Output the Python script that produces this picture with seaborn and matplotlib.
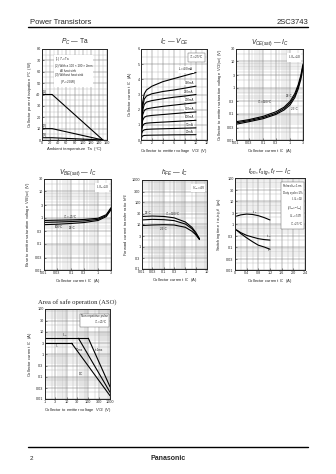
import numpy as np
import pandas as pd
import matplotlib
matplotlib.use("Agg")
import matplotlib.pyplot as plt
from matplotlib.ticker import MultipleLocator, LogLocator, NullFormatter
import seaborn as sns

sns.set_style("ticks")
plt.rcParams['font.family'] = ['Liberation Sans', 'DejaVu Sans']
plt.rcParams['mathtext.fontset'] = 'custom'
plt.rcParams['mathtext.rm'] = 'Liberation Sans'
plt.rcParams['mathtext.it'] = 'Liberation Sans:italic'

# ---------------- data ----------------
# Pc - Ta
pc_ta = [0, 25, 150]
pc_1 = [40, 40, 0]
pc_2 = [10, 10, 0]
pc_3 = [2, 2, 0]

# Ic - Vce
vce = [0, 0.15, 0.3, 0.6, 1, 2, 4, 6, 8, 10]
ib_labels = ["$I_B$=400mA", "300mA", "250mA", "200mA", "150mA", "100mA", "50mA", "20mA"]
ic_400 = [0, 1.6, 2.5, 3.05, 3.3, 3.55, 3.85, 4.05, 4.25, 4.45]
ic_300 = [0, 1.4, 2.2, 2.7, 2.9, 3.05, 3.2, 3.3, 3.42, 3.55]
ic_250 = [0, 1.3, 1.95, 2.35, 2.5, 2.6, 2.72, 2.82, 2.9, 3.0]
ic_200 = [0, 1.1, 1.65, 1.95, 2.05, 2.12, 2.22, 2.3, 2.38, 2.45]
ic_150 = [0, 0.9, 1.3, 1.5, 1.57, 1.62, 1.68, 1.74, 1.8, 1.85]
ic_100 = [0, 0.7, 0.95, 1.07, 1.11, 1.14, 1.18, 1.22, 1.26, 1.3]
ic_50 = [0, 0.45, 0.6, 0.67, 0.7, 0.72, 0.74, 0.76, 0.78, 0.8]
ic_20 = [0, 0.2, 0.27, 0.3, 0.31, 0.32, 0.33, 0.34, 0.345, 0.35]

# Vce(sat) - Ic
sat_ic = [0.01, 0.03, 0.1, 0.3, 0.6, 1, 1.5, 2, 2.5, 3]
vcesat_100 = [0.05, 0.06, 0.08, 0.12, 0.18, 0.3, 0.6, 1.3, 3, 8]
vcesat_25 = [0.045, 0.055, 0.072, 0.105, 0.16, 0.26, 0.5, 1.1, 2.5, 7]
vcesat_m25 = [0.04, 0.05, 0.065, 0.095, 0.14, 0.22, 0.42, 0.9, 2.1, 6]

# Vbe(sat) - Ic
vbe_ic = [0.01, 0.03, 0.1, 0.3, 1, 2, 3]
vbe_m25 = [0.78, 0.8, 0.82, 0.85, 0.95, 1.3, 2.4]
vbe_25 = [0.66, 0.68, 0.71, 0.75, 0.86, 1.2, 2.2]
vbe_100 = [0.54, 0.56, 0.6, 0.65, 0.78, 1.1, 2.0]

# hFE - Ic
hfe_ic = [0.01, 0.03, 0.1, 0.3, 1, 2, 3, 4.5]
hfe_100 = [23, 24, 23, 20, 13, 7.5, 4.5, 2.3]
hfe_25 = [16, 17, 16.5, 15, 10.5, 6.5, 4, 2.2]
hfe_m25 = [9, 9.5, 9.8, 9.5, 7.5, 5, 3.5, 2.1]

# switching times
sw_ic = [0.05, 0.2, 0.4, 0.6, 0.8, 1.0, 1.2]
t_stg = [2.2, 2.5, 2.7, 2.6, 2.3, 1.9, 1.5]
t_on = [0.55, 0.42, 0.32, 0.27, 0.23, 0.21, 0.2]
t_f = [0.55, 0.38, 0.25, 0.17, 0.12, 0.1, 0.08]

# ASO
aso_icp_v = [1, 100]; aso_icp_i = [5, 5]
aso_ic_v = [1, 17]; aso_ic_i = [3, 3]
aso_1ms_v = [100, 1000]; aso_1ms_i = [5, 0.035]
aso_10ms_v = [35, 1000]; aso_10ms_i = [5, 0.02]
aso_dc_v = [17, 1000]; aso_dc_i = [3, 0.014]

log_ticks = [0.01, 0.03, 0.1, 0.3, 1, 3, 10, 30, 100, 300, 1000]
log_labels = ["0.01", "0.03", "0.1", "0.3", "1", "3", "10", "30", "100", "300", "1000"]

# ---------------- figure ----------------
W, H = 336, 474
fig = plt.figure(figsize=(W / 100, H / 100), dpi=100)

def add_ax(x0, y0, x1, y1):
    return fig.add_axes([x0 / W, 1 - y1 / H, (x1 - x0) / W, (y1 - y0) / H])

TS = 2.7   # tick label size
LS = 3.0   # axis label size
KW = dict(color='black', linewidth=0.8, legend=False)

def style(ax, title, xlabel, ylabel, serif=False):
    if serif:
        ax.set_title(title, fontsize=4.8, pad=4, family=['Liberation Serif', 'DejaVu Serif'])
    else:
        ax.set_title(title, fontsize=4.8, pad=4)
    ax.set_xlabel(xlabel, fontsize=LS, labelpad=1.5)
    ax.set_ylabel(ylabel, fontsize=LS, labelpad=1.5)
    ax.tick_params(which='major', labelsize=TS, length=1.2, width=0.4, pad=1, direction='in')
    ax.tick_params(which='minor', length=0)
    ax.grid(which='major', color='0.45', linewidth=0.35)
    ax.grid(which='minor', color='0.65', linewidth=0.25)
    for s in ax.spines.values():
        s.set_linewidth(0.7)
    ax.set_axisbelow(True)

def set_log_ticks(ax, axis, lo, hi):
    t = [v for v in log_ticks if lo - 1e-9 <= v <= hi + 1e-9]
    l = [log_labels[log_ticks.index(v)] for v in t]
    if axis == 'x':
        ax.set_xscale('log'); ax.set_xlim(lo, hi); ax.set_xticks(t, l)
        ax.xaxis.set_minor_locator(LogLocator(base=10, subs=np.arange(2, 10)))
        ax.xaxis.set_minor_formatter(NullFormatter())
    else:
        ax.set_yscale('log'); ax.set_ylim(lo, hi); ax.set_yticks(t, l)
        ax.yaxis.set_minor_locator(LogLocator(base=10, subs=np.arange(2, 10)))
        ax.yaxis.set_minor_formatter(NullFormatter())

# header / footer
fig.text(30 / W, 1 - 23.5 / H, "Power Transistors", fontsize=5.5, ha='left', va='baseline')
fig.text(308 / W, 1 - 23.5 / H, "2SC3743", fontsize=5.5, ha='right', va='baseline')
fig.add_artist(plt.Line2D([28 / W, 308 / W], [1 - 27 / H, 1 - 27 / H], color='black', lw=1.0))
fig.add_artist(plt.Line2D([28 / W, 308 / W], [1 - 447 / H, 1 - 447 / H], color='black', lw=1.0))
fig.text(30 / W, 1 - 460 / H, "2", fontsize=4.5, ha='left', va='baseline')
fig.text(168 / W, 1 - 460 / H, "Panasonic", fontsize=5, ha='center', va='baseline', fontweight='bold')

# ---- 1: Pc - Ta ----
ax = add_ax(42, 49, 107, 140)
for y, lab in [(pc_1, "(1)"), (pc_2, "(2)"), (pc_3, "(3)")]:
    sns.lineplot(x=pc_ta, y=y, ax=ax, **KW)
    ax.text(3, y[0] + 1.2, lab, fontsize=2.4)
ax.set_xlim(0, 160); ax.set_ylim(0, 80)
ax.xaxis.set_major_locator(MultipleLocator(20)); ax.xaxis.set_minor_locator(MultipleLocator(10))
ax.yaxis.set_major_locator(MultipleLocator(10)); ax.yaxis.set_minor_locator(MultipleLocator(5))
style(ax, "$P_C$ — Ta", "Ambient temperature  Ta  (°C)", "Collector power dissipation  $P_C$  (W)")
ax.text(0.2, 0.93, "(1) $T_C$=Ta\n(2) With a 100 × 100 × 2mm\n      Al heat sink\n(3) Without heat sink\n      ($P_C$=2.0W)",
        transform=ax.transAxes, fontsize=2.2, va='top', ha='left', linespacing=1.2,
        bbox=dict(facecolor='white', edgecolor='none', pad=0.5))

# ---- 2: Ic - Vce ----
ax = add_ax(141, 49, 207, 140)
curves = [ic_400, ic_300, ic_250, ic_200, ic_150, ic_100, ic_50, ic_20]
for y, lab in zip(curves, ib_labels):
    sns.lineplot(x=vce, y=y, ax=ax, **KW)
    ax.text(9.6, y[-1] + 0.12, lab, fontsize=2.2, ha='right',
            bbox=dict(facecolor='white', edgecolor='none', pad=0.1))
ax.set_xlim(0, 12); ax.set_ylim(0, 6)
ax.xaxis.set_major_locator(MultipleLocator(2)); ax.xaxis.set_minor_locator(MultipleLocator(1))
ax.yaxis.set_major_locator(MultipleLocator(1)); ax.yaxis.set_minor_locator(MultipleLocator(0.5))
style(ax, "$I_C$ — $V_{CE}$", "Collector to emitter voltage  $V_{CE}$  (V)", "Collector current  $I_C$  (A)")
ax.text(0.95, 0.95, "$T_C$=25°C", transform=ax.transAxes, fontsize=2.3, ha='right', va='top',
        bbox=dict(facecolor='white', edgecolor='0.3', lw=0.3, pad=0.6))

# ---- 3: Vce(sat) - Ic ----
ax = add_ax(236, 49, 303, 140)
for y in [vcesat_100, vcesat_25, vcesat_m25]:
    sns.lineplot(x=sat_ic, y=y, ax=ax, **KW)
set_log_ticks(ax, 'x', 0.01, 3)
set_log_ticks(ax, 'y', 0.01, 30)
style(ax, "$V_{CE(sat)}$ — $I_C$", "Collector current  $I_C$  (A)",
      "Collector to emitter saturation voltage  $V_{CE(sat)}$  (V)")
ax.text(0.97, 0.95, "$I_C$/$I_B$=10", transform=ax.transAxes, fontsize=2.3, ha='right', va='top',
        bbox=dict(facecolor='white', edgecolor='none', pad=0.3))
ax.text(0.9, 0.45, "25°C", fontsize=2.2, ha='center')
ax.text(0.06, 0.26, "$T_C$=100°C", fontsize=2.2, ha='left')
ax.text(1.1, 0.14, "-25°C", fontsize=2.2, ha='left')

# ---- 4: Vbe(sat) - Ic ----
ax = add_ax(44, 179, 111, 270)
for y in [vbe_m25, vbe_25, vbe_100]:
    sns.lineplot(x=vbe_ic, y=y, ax=ax, **KW)
set_log_ticks(ax, 'x', 0.01, 3)
set_log_ticks(ax, 'y', 0.01, 30)
style(ax, "$V_{BE(sat)}$ — $I_C$", "Collector current  $I_C$  (A)",
      "Base to emitter saturation voltage  $V_{BE(sat)}$  (V)")
ax.text(0.97, 0.95, "$I_C$/$I_B$=10", transform=ax.transAxes, fontsize=2.3, ha='right', va='top',
        bbox=dict(facecolor='white', edgecolor='none', pad=0.3))
ax.text(0.05, 0.97, "$T_C$=-25°C", fontsize=2.2)
ax.text(0.025, 0.42, "100°C", fontsize=2.2)
ax.text(0.08, 0.38, "25°C", fontsize=2.2)

# ---- 5: hFE - Ic ----
ax = add_ax(142, 180, 207, 269)
for y in [hfe_100, hfe_25, hfe_m25]:
    sns.lineplot(x=hfe_ic, y=y, ax=ax, **KW)
set_log_ticks(ax, 'x', 0.01, 10)
set_log_ticks(ax, 'y', 0.1, 1000)
style(ax, "$h_{FE}$ — $I_C$", "Collector current  $I_C$  (A)", "Forward current transfer ratio  $h_{FE}$")
ax.text(0.97, 0.95, "$V_{CE}$=4V", transform=ax.transAxes, fontsize=2.3, ha='right', va='top',
        bbox=dict(facecolor='white', edgecolor='none', pad=0.3))
ax.text(0.013, 30, "25°C", fontsize=2.2)
ax.text(0.12, 27, "$T_C$=100°C", fontsize=2.2)
ax.text(0.07, 5.5, "-25°C", fontsize=2.2)

# ---- 6: switching ----
ax = add_ax(235, 178, 305, 270)
for y in [t_stg, t_on, t_f]:
    sns.lineplot(x=sw_ic, y=y, ax=ax, **KW)
ax.set_xlim(0, 2.4)
ax.set_xticks([0, 0.4, 0.8, 1.2, 1.6, 2.0, 2.4], ["0", "0.4", "0.8", "1.2", "1.6", "2.0", "2.4"])
ax.xaxis.set_minor_locator(MultipleLocator(0.2))
set_log_ticks(ax, 'y', 0.01, 100)
style(ax, "$t_{on}$, $t_{stg}$, $t_f$ — $I_C$", "Collector current  $I_C$  (A)",
      "Switching time  $t_{on}$,$t_{stg}$,$t_f$  (μs)")
ax.text(0.97, 0.95, "Pulsed $t_w$=1ms\nDuty cycle=1%\n$I_C$/$I_B$=10\n(2$I_{B1}$=−$I_{B2}$)\n$V_{CC}$=50V\n$T_C$=25°C",
        transform=ax.transAxes, fontsize=2.1, ha='right', va='top', linespacing=1.15,
        bbox=dict(facecolor='white', edgecolor='0.3', lw=0.3, pad=0.6))
ax.text(0.6, 3.3, "$t_{stg}$", fontsize=2.4)
ax.text(1.05, 0.25, "$t_{on}$", fontsize=2.4)
ax.text(1.1, 0.065, "$t_f$", fontsize=2.4)

# ---- 7: ASO ----
ax = add_ax(45, 309, 110, 399)
for xv, yv in [(aso_icp_v, aso_icp_i), (aso_ic_v, aso_ic_i), (aso_1ms_v, aso_1ms_i),
               (aso_10ms_v, aso_10ms_i), (aso_dc_v, aso_dc_i)]:
    sns.lineplot(x=xv, y=yv, ax=ax, **KW)
set_log_ticks(ax, 'x', 1, 1000)
set_log_ticks(ax, 'y', 0.01, 100)
style(ax, "Area of safe operation (ASO)", "Collector to emitter voltage  $V_{CE}$  (V)",
      "Collector current  $I_C$  (A)", serif=True)
ax.text(0.97, 0.95, "Non repetitive pulse\n$T_C$=25°C", transform=ax.transAxes, fontsize=2.2,
        ha='right', va='top', linespacing=1.15,
        bbox=dict(facecolor='white', edgecolor='0.3', lw=0.3, pad=0.6))
ax.text(6, 6.2, "$I_{CP}$", fontsize=2.4)
ax.text(3, 1.9, "$I_C$", fontsize=2.4)
ax.text(200, 1.4, "t=1ms", fontsize=2.2)
ax.text(25, 1.3, "10ms", fontsize=2.2)
ax.text(35, 0.12, "DC", fontsize=2.2)

fig.savefig("out.png", dpi=100)
